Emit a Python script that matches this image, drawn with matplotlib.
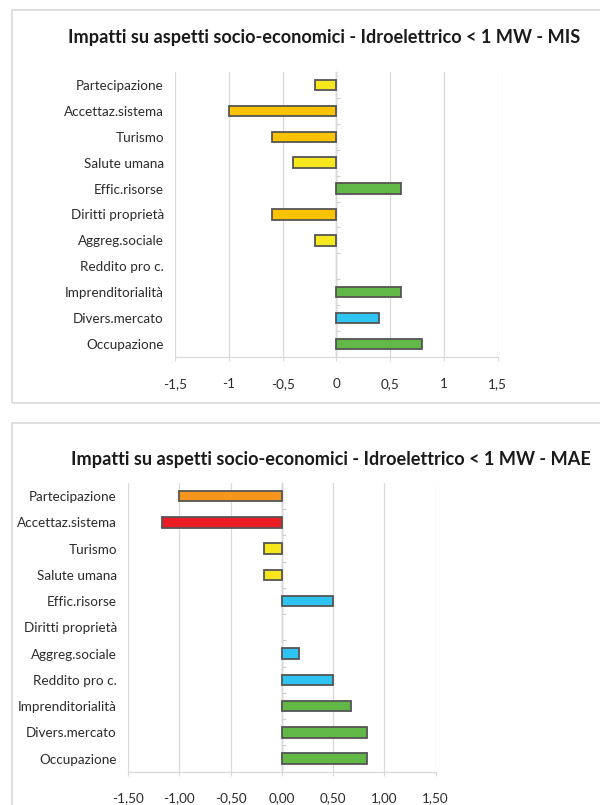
import matplotlib
matplotlib.use("Agg")
import matplotlib.pyplot as plt
from matplotlib.patches import Rectangle
from matplotlib.ticker import FuncFormatter

plt.rcParams['font.family'] = ['Lato', 'DejaVu Sans']

categories = ["Partecipazione", "Accettaz.sistema", "Turismo", "Salute umana",
              "Effic.risorse", "Diritti proprietà", "Aggreg.sociale",
              "Reddito pro c.", "Imprenditorialità", "Divers.mercato", "Occupazione"]

values_mis = [-0.2, -1.0, -0.6, -0.4, 0.6, -0.6, -0.2, 0.0, 0.6, 0.4, 0.8]
values_mae = [-1.0, -1.17, -0.17, -0.17, 0.5, 0.0, 0.17, 0.5, 0.67, 0.83, 0.83]

title_mis = "Impatti su aspetti socio-economici - Idroelettrico < 1 MW - MIS"
title_mae = "Impatti su aspetti socio-economici - Idroelettrico < 1 MW - MAE"

xticks = [-1.5, -1.0, -0.5, 0.0, 0.5, 1.0, 1.5]

YEL, GOLD, GRN, BLU, ORG, RED = "#F6E61C", "#FFC200", "#62B846", "#2EC4F2", "#F7961F", "#EC1C24"
colors_mis = [YEL, GOLD, GOLD, YEL, GRN, GOLD, YEL, YEL, GRN, BLU, GRN]
colors_mae = [ORG, RED, YEL, YEL, BLU, BLU, BLU, BLU, GRN, GRN, GRN]

W, H = 600, 805
fig = plt.figure(figsize=(W / 100, H / 100), dpi=100)
fig.patch.set_facecolor("white")


def px_rect(x0, y0, x1, y1):
    """Axes rectangle from pixel coords (origin top-left)."""
    return [x0 / W, 1 - y1 / H, (x1 - x0) / W, (y1 - y0) / H]


def fmt_short(v, pos):
    return ("%g" % round(v, 2)).replace(".", ",")


def fmt_two(v, pos):
    return ("%.2f" % v).replace(".", ",")


def draw_panel(box, axbox, title, title_xy, values, colors, formatter):
    # chart area border
    x0, y0, x1, y1 = box
    fig.add_artist(Rectangle((x0 / W, 1 - y1 / H), (x1 - x0) / W, (y1 - y0) / H,
                             transform=fig.transFigure, fill=False,
                             edgecolor="#DCDCDC", linewidth=1.3))
    fig.text(title_xy[0] / W, 1 - title_xy[1] / H, title, ha="left", va="center",
             fontsize=13.1, fontweight="bold", color="#1A1A1A")

    ax = fig.add_axes(px_rect(*axbox))
    ypos = list(range(len(categories)))
    widths = [1.3 if v != 0 else 0 for v in values]
    ax.barh(ypos, values, height=0.4, color=colors, edgecolor="#555555",
            linewidth=widths, zorder=3)
    ax.set_xlim(-1.5, 1.5)
    ax.set_ylim(len(categories) - 0.5, -0.5)
    ax.set_xticks(xticks)
    ax.xaxis.set_major_formatter(FuncFormatter(formatter))
    ax.set_yticks(ypos)
    ax.set_yticklabels(categories)
    ax.grid(axis="x", color="#D9D9D9", linewidth=0.9, zorder=0)
    for s in ("top", "right", "left"):
        ax.spines[s].set_visible(False)
    ax.spines["bottom"].set_color("#D9D9D9")
    ax.spines["bottom"].set_linewidth(0.9)
    ax.tick_params(axis="y", length=0, pad=8, labelsize=9.7, labelcolor="#2B2B2B")
    ax.tick_params(axis="x", length=3, color="#D9D9D9", pad=12, labelsize=9.7,
                   labelcolor="#2B2B2B")

    # vertical category axis through zero with its tick marks
    sec = ax.secondary_yaxis(0.5)
    sec.spines["left"].set_color("#F2F2F2")
    sec.set_yticks([i + 0.5 for i in range(len(categories) - 1)])
    sec.set_yticklabels([])
    sec.tick_params(axis="y", length=3, color="#D0D0D0", direction="out")
    return ax


draw_panel((12, 10, 640, 403), (175, 72, 497.7, 357), title_mis, (68, 38),
           values_mis, colors_mis, fmt_short)
draw_panel((12, 423, 640, 860), (128, 483, 435.7, 771.7), title_mae, (71, 459),
           values_mae, colors_mae, fmt_two)

fig.savefig("out.png", dpi=100, facecolor="white")
